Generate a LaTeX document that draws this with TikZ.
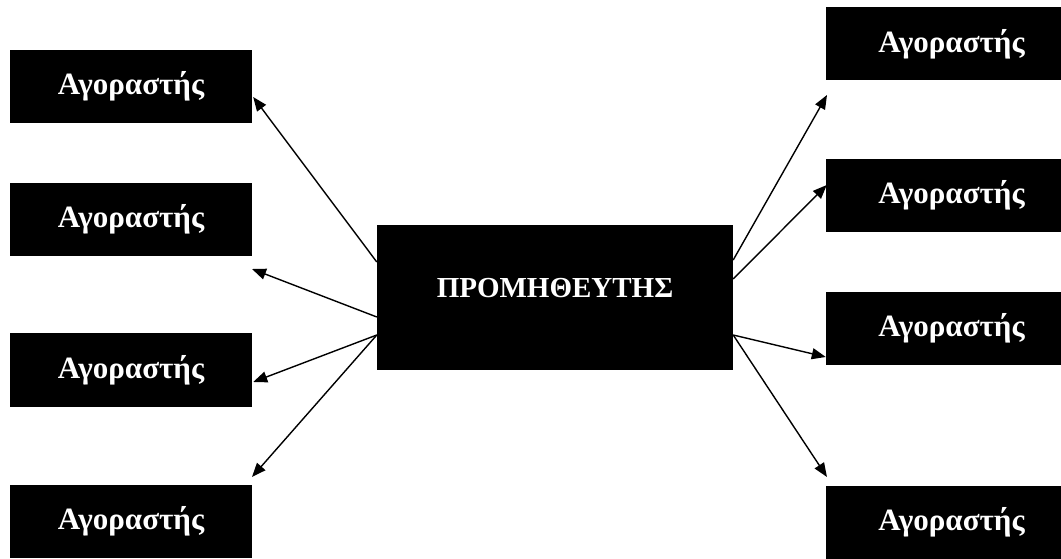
\documentclass[tikz,border=0pt]{standalone}
\usepackage{fontspec}
\setmainfont{Liberation Serif}
\usetikzlibrary{arrows.meta,calc}
\begin{document}
\begin{tikzpicture}[x=1pt,y=-1pt,
  box/.style={fill=black,text=white,inner sep=0pt,font=\fontsize{31}{36}\selectfont\bfseries},
  buyerL/.style={box,minimum width=242pt,minimum height=73pt},
  buyerR/.style={box,minimum width=251pt,minimum height=73pt},
  link/.style={line width=1.4pt,-{Triangle[length=14pt,width=11pt]}}]
\useasboundingbox (0,0) rectangle (1061,559);
% central supplier
\node[box,font=\fontsize{29}{34}\selectfont\bfseries,minimum width=356pt,minimum height=145pt,text depth=20pt] (P) at (555,297.5) {ΠΡΟΜΗΘΕΥΤΗΣ};
% left buyers
\node[buyerL] (L1) at (131,86.5) {Αγοραστής};
\node[buyerL] (L2) at (131,219.5) {Αγοραστής};
\node[buyerL,minimum height=74pt] (L3) at (131,370) {Αγοραστής};
\node[buyerL] (L4) at (131,521.5) {Αγοραστής};
% right buyers
\node[buyerR] (R1) at (951.5,44) {Αγοραστής};
\node[buyerR] (R2) at (951.5,195.5) {Αγοραστής};
\node[buyerR] (R3) at (951.5,328.5) {Αγοραστής};
\node[buyerR] (R4) at (951.5,522) {Αγοραστής};
% free arrow ends
\coordinate (a2) at (252,269);
\coordinate (a4) at (252,477);
\coordinate (b1) at (827,95);
\coordinate (b4) at (827,477);
% left arrows
\draw[link] ($(P.west)+(0,-35.5)$) -- ($(L1.east)+(1,10.5)$);
\draw[link] ($(P.west)+(0,19.5)$) -- (a2);
\draw[link] ($(P.west)+(0,37.5)$) -- ($(L3.east)+(1,12)$);
\draw[link] ($(P.west)+(0,37.5)$) -- (a4);
% right arrows
\draw[link] ($(P.east)+(0,-37.5)$) -- (b1);
\draw[link] ($(P.east)+(0,-18.5)$) -- ($(R2.west)+(1,-10.5)$);
\draw[link] ($(P.east)+(0,37.5)$) -- ($(R3.west)+(0,28.5)$);
\draw[link] ($(P.east)+(0,37.5)$) -- (b4);
\end{tikzpicture}
\end{document}
